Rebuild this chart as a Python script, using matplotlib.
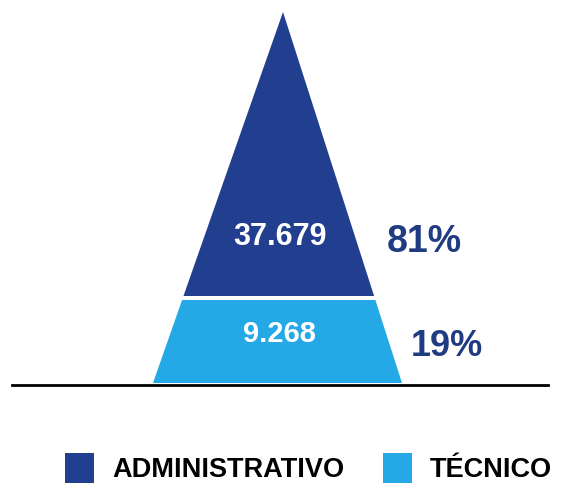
import matplotlib.pyplot as plt
from matplotlib.patches import Polygon

# data
categories = ["ADMINISTRATIVO", "TÉCNICO"]
counts = ["37.679", "9.268"]
shares = [81, 19]
colors = ["#213f8e", "#25a9e6"]

W, H = 570, 486
fig = plt.figure(figsize=(W / 100, H / 100), dpi=100)
ax = fig.add_axes([0, 0, 1, 1])
ax.set_xlim(0, W)
ax.set_ylim(H, 0)
ax.axis("off")

# pyramid geometry (pixels)
apex_x, apex_y = 283, 12
base_y, base_l, base_r = 383, 153, 402
split_y, gap = 296, 4


def edge_x(y, side):
    t = (y - apex_y) / (base_y - apex_y)
    end = base_l if side == "l" else base_r
    return apex_x + (end - apex_x) * t


# top triangle
top = [(apex_x, apex_y), (edge_x(split_y, "r"), split_y), (edge_x(split_y, "l"), split_y)]
ax.add_patch(Polygon(top, closed=True, color=colors[0], lw=0))
# bottom trapezoid
y2 = split_y + gap
bot = [(edge_x(y2, "l"), y2), (edge_x(y2, "r"), y2), (base_r, base_y), (base_l, base_y)]
ax.add_patch(Polygon(bot, closed=True, color=colors[1], lw=0))

ax.plot([12, 548], [385, 385], color="black", lw=2)

font = "Liberation Sans"
ax.text(280, 237, counts[0], color="white", fontsize=22, fontweight="bold",
        ha="center", va="center", family=font)
ax.text(279, 334, counts[1], color="white", fontsize=21, fontweight="bold",
        ha="center", va="center", family=font)
ax.text(387, 242, f"{shares[0]}%", color="#1f3b82", fontsize=27, fontweight="bold",
        ha="left", va="center", family=font)
ax.text(411, 346, f"{shares[1]}%", color="#1f3b82", fontsize=26, fontweight="bold",
        ha="left", va="center", family=font)

# legend
leg_x = [65, 383]
for x, c, lab in zip(leg_x, colors, categories):
    ax.add_patch(plt.Rectangle((x, 453), 29, 30, color=c, lw=0))
    ax.text(x + 47, 470, lab, color="black", fontsize=19.5, fontweight="bold",
            ha="left", va="center", family=font)

fig.savefig("out.png", dpi=100)
